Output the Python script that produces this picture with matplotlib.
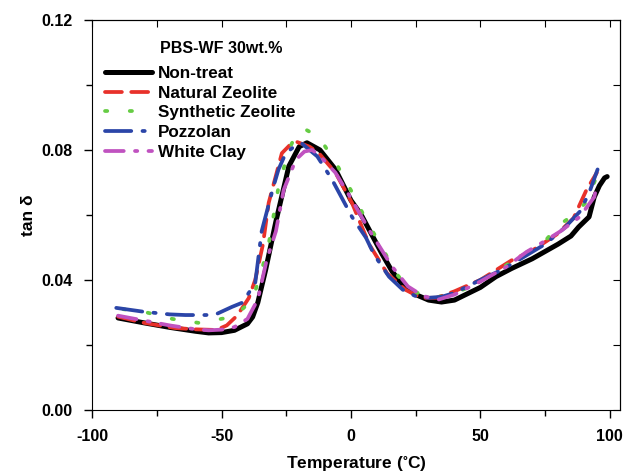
import matplotlib
matplotlib.use('Agg')
import matplotlib.pyplot as plt
from matplotlib.ticker import MultipleLocator, FormatStrFormatter

plt.rcParams['font.family'] = ['Liberation Sans', 'DejaVu Sans']
plt.rcParams['font.weight'] = 'bold'
plt.rcParams['axes.unicode_minus'] = False

# temperature (C) and tan delta for each filler
t_non = [-90, -80, -70, -60, -55, -50, -45, -40, -38, -36, -33, -29, -24, -20, -17, -12, -6, 0, 4, 8, 12, 16, 20, 25, 30, 35, 40, 50, 56, 62, 70, 80, 85, 88, 92, 94, 96, 98, 99]
v_non = [0.0283, 0.0268, 0.0254, 0.0242, 0.0237, 0.0238, 0.0245, 0.0265, 0.0286, 0.033, 0.043, 0.058, 0.075, 0.081, 0.0822, 0.080, 0.074, 0.0645, 0.060, 0.054, 0.048, 0.0425, 0.0385, 0.0355, 0.0338, 0.0332, 0.0338, 0.0377, 0.041, 0.0435, 0.0465, 0.051, 0.0535, 0.0563, 0.0594, 0.0655, 0.069, 0.0714, 0.0718]

t_nat = [-90, -80, -68, -60, -52, -48, -44, -39.5, -37, -34, -31.8, -26.7, -23, -21, -16, -12.4, -6, 0.4, 7, 14, 21, 27, 33, 40, 50, 62, 70, 79.5, 86, 91, 95]
v_nat = [0.0287, 0.0268, 0.0252, 0.0248, 0.0246, 0.026, 0.029, 0.0344, 0.040, 0.051, 0.0637, 0.079, 0.082, 0.0825, 0.081, 0.079, 0.073, 0.0637, 0.051, 0.042, 0.037, 0.0345, 0.0345, 0.0365, 0.040, 0.046, 0.049, 0.054, 0.059, 0.0677, 0.073]

t_syn = [-88, -79, -69, -59, -48, -42, -38, -34.5, -31.8, -28, -24, -21, -18, -12.4, -5.8, 0.4, 5.8, 12, 17.4, 23, 30, 36, 45, 55, 65, 75, 80.6, 86, 91, 95]
v_syn = [0.031, 0.030, 0.028, 0.0268, 0.0283, 0.031, 0.034, 0.043, 0.051, 0.0686, 0.080, 0.0852, 0.0865, 0.084, 0.076, 0.067, 0.0585, 0.050, 0.042, 0.037, 0.0345, 0.035, 0.0375, 0.042, 0.047, 0.052, 0.057, 0.060, 0.064, 0.072]

t_poz = [-90.7, -80, -70, -64, -56, -52, -46, -42, -37, -34.5, -30, -28, -25.2, -22, -19, -13, -7.4, 0.4, 5.8, 9, 14.7, 20, 25, 30, 35, 40, 50, 58, 66, 75, 82.5, 88.4, 92, 95.3]
v_poz = [0.0314, 0.0302, 0.0294, 0.0292, 0.0292, 0.0295, 0.0317, 0.033, 0.039, 0.055, 0.0686, 0.074, 0.079, 0.081, 0.082, 0.078, 0.071, 0.0594, 0.053, 0.0477, 0.041, 0.037, 0.035, 0.0345, 0.0348, 0.036, 0.040, 0.043, 0.0467, 0.051, 0.056, 0.061, 0.0667, 0.074]

t_wc = [-90, -80, -70, -60, -55, -50, -45, -40, -36, -32.6, -29, -26, -21.3, -18, -15, -12.4, -6, 0.4, 7, 16, 22, 28, 34, 40, 50, 60, 67.8, 75, 81, 88.4, 94, 95.3]
v_wc = [0.029, 0.0275, 0.026, 0.0248, 0.0245, 0.0247, 0.0255, 0.028, 0.034, 0.046, 0.055, 0.0677, 0.077, 0.0795, 0.080, 0.0785, 0.073, 0.0646, 0.0554, 0.044, 0.038, 0.035, 0.034, 0.0355, 0.0395, 0.044, 0.0486, 0.052, 0.055, 0.0594, 0.0655, 0.070]

fig = plt.figure(figsize=(6.27, 4.75), dpi=100)
ax = fig.add_axes([0.147, 0.137, 0.842, 0.821])

ax.plot(t_non, v_non, color='black', lw=3.6, label='Non-treat', solid_capstyle='round', zorder=2)
ax.plot(t_nat, v_nat, color='#e8312a', lw=2.7, dashes=(4.5, 2.5), dash_capstyle='round', label='Natural Zeolite', zorder=3)
ax.plot(t_syn, v_syn, color='#66cc44', lw=2.7, dashes=(0.6, 6), dash_capstyle='round', label='Synthetic Zeolite', zorder=3)
ax.plot(t_poz, v_poz, color='#2b45a8', lw=2.7, dashes=(7, 3, 0.6, 3), dash_capstyle='round', label='Pozzolan', zorder=3)
ax.plot(t_wc, v_wc, color='#c052c0', lw=2.7, dashes=(5, 3, 0.6, 3), dash_capstyle='round', label='White Clay', zorder=3)

ax.set_xlim(-100, 104)
ax.set_ylim(0, 0.12)
ax.xaxis.set_major_locator(MultipleLocator(50))
ax.xaxis.set_minor_locator(MultipleLocator(25))
ax.yaxis.set_major_locator(MultipleLocator(0.04))
ax.yaxis.set_minor_locator(MultipleLocator(0.02))
ax.yaxis.set_major_formatter(FormatStrFormatter('%.2f'))
ax.tick_params(which='major', direction='out', length=6, width=1, labelsize=11.5, pad=8)
ax.tick_params(which='minor', direction='out', length=4, width=1)

top = ax.secondary_xaxis('top')
top.set_xticks([-100, -75, -50, -25, 0, 25, 50, 75, 100])
top.tick_params(direction='in', length=5, labeltop=False)
right = ax.secondary_yaxis('right')
right.set_yticks([0, 0.02, 0.04, 0.06, 0.08, 0.10, 0.12])
right.tick_params(direction='in', length=5, labelright=False)

ax.set_xlabel('Temperature ($\\mathregular{^{\\circ}}$C)', fontsize=12.5, fontweight='bold', labelpad=7)
ax.set_ylabel('tan δ', fontsize=12.5, fontweight='bold', labelpad=4)

ax.text(0.129, 0.927, 'PBS-WF 30wt.%', transform=ax.transAxes, fontsize=11.5,
        fontweight='bold', va='center', ha='left')
ax.legend(loc='upper left', frameon=False, fontsize=12.3,
          handlelength=2.75, handletextpad=0.35, labelspacing=0.28,
          borderaxespad=0, bbox_to_anchor=(0.012, 0.9))

fig.savefig('out.png', dpi=100)
